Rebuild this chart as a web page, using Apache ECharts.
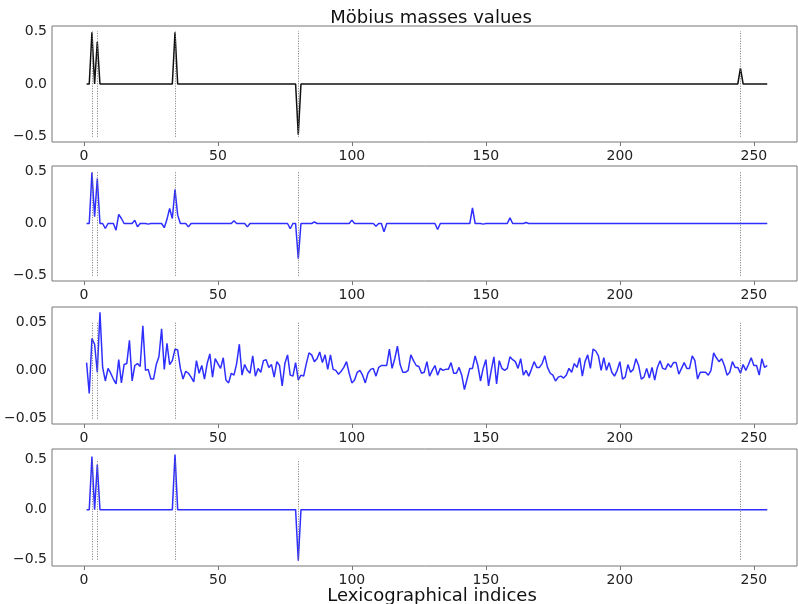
<!DOCTYPE html>
<html>
<head>
<meta charset="utf-8">
<script src="https://cdn.jsdelivr.net/npm/echarts@6/dist/echarts.min.js"></script>
<style>
  html, body { margin: 0; padding: 0; background: #fff; }
  #chart { width: 798px; height: 604px; }
</style>
</head>
<body>
<div id="chart"></div>
<script>
// lexicographical indices run 1..255
const firstIndex = 1;
const lastIndex = 255;
const markedIndices = [3, 5, 34, 80, 245];
const xTicks = [0, 50, 100, 150, 200, 250];

// panel 1: true masses (only non-zero entries, rest is 0)
const trueMasses = [[3, 0.49], [5, 0.40], [34, 0.49], [80, -0.48], [245, 0.15]];

// panel 2: estimate (non-zero entries)
const estimateMasses = [
  [3, 0.487], [4, 0.064], [5, 0.43], [8, -0.048], [12, -0.064], [13, 0.087],
  [14, 0.048], [19, 0.032], [20, -0.032], [24, -0.006], [30, -0.04], [31, 0.04],
  [32, 0.144], [33, 0.048], [34, 0.327], [35, 0.08], [39, -0.032], [56, 0.026],
  [61, -0.032], [77, -0.05], [80, -0.337], [86, 0.016], [100, 0.032], [109, -0.026],
  [112, -0.08], [132, -0.058], [145, 0.15], [149, -0.006], [159, 0.054], [165, 0.01]
];

// panel 3: every index 1..255
const noisyMasses = [
  0.008, -0.024, 0.033, 0.027, -0.002, 0.060, 0.003, -0.011, 0.002, -0.003,
  -0.009, -0.014, 0.011, -0.013, 0.006, 0.007, 0.031, -0.011, 0.005, 0.007,
  0.004, 0.046, 0.000, 0.001, -0.009, -0.009, 0.006, 0.014, 0.043, 0.001,
  0.028, 0.006, 0.010, 0.022, 0.021, 0.002, -0.009, -0.001, -0.003, -0.007,
  -0.012, 0.010, -0.003, 0.005, -0.009, 0.007, 0.017, -0.007, 0.012, 0.007,
  0.002, 0.013, -0.010, -0.013, -0.003, -0.005, 0.007, 0.027, -0.005, 0.006,
  0.000, -0.003, 0.015, -0.006, 0.002, -0.002, 0.010, 0.011, 0.003, 0.006,
  -0.007, 0.009, 0.005, -0.016, 0.007, 0.016, -0.005, -0.006, 0.008, -0.010,
  -0.005, -0.006, 0.007, 0.018, 0.016, 0.009, 0.012, 0.019, 0.008, 0.016,
  0.001, 0.016, 0.001, 0.000, -0.004, -0.001, 0.003, 0.009, -0.003, -0.013,
  -0.010, -0.002, 0.000, -0.005, -0.013, -0.003, 0.001, 0.002, -0.006, 0.003,
  0.005, 0.005, 0.005, 0.022, 0.002, 0.012, 0.025, 0.006, -0.002, -0.002,
  0.000, 0.016, 0.010, 0.005, 0.004, -0.003, -0.002, 0.009, -0.006, 0.000,
  0.005, -0.005, 0.002, 0.000, 0.001, 0.001, 0.008, -0.003, -0.003, 0.003,
  -0.005, -0.020, -0.009, 0.002, 0.002, 0.015, 0.005, -0.011, 0.002, 0.011,
  -0.016, 0.000, 0.014, -0.014, 0.010, 0.002, 0.000, 0.002, 0.014, 0.011,
  0.009, 0.002, 0.012, -0.005, 0.000, -0.006, 0.001, 0.009, 0.003, 0.003,
  0.007, 0.015, 0.003, -0.003, -0.005, -0.011, -0.007, -0.006, -0.008, -0.005,
  0.002, -0.002, 0.007, 0.003, 0.013, -0.006, 0.009, 0.016, 0.002, 0.022,
  0.020, 0.015, 0.000, 0.013, 0.000, 0.008, -0.002, -0.006, 0.000, 0.009,
  -0.009, -0.007, 0.006, -0.002, 0.001, 0.012, 0.005, -0.009, -0.007, 0.002,
  -0.008, 0.003, -0.010, 0.003, 0.010, 0.002, 0.001, 0.007, 0.003, 0.008,
  0.008, -0.004, 0.002, 0.008, 0.002, 0.002, 0.015, 0.010, -0.009, -0.002,
  -0.002, -0.002, -0.005, 0.000, 0.018, 0.013, 0.009, 0.012, 0.005, -0.005,
  -0.002, 0.009, 0.003, 0.003, -0.003, 0.006, 0.000, 0.006, 0.013, 0.005,
  0.005, -0.005, 0.012, 0.003, 0.005
];

// panel 4: recovered masses (non-zero entries)
const recoveredMasses = [[3, 0.53], [5, 0.45], [34, 0.55], [80, -0.51]];

const panelTicks = [[-0.5, 0, 0.5], [-0.5, 0, 0.5], [-0.05, 0, 0.05], [-0.5, 0, 0.5]];

// ---- layout ----
const PANELS = [
  { top: 26, height: 116, min: -0.55, max: 0.55, digits: 1, vline: 0.5, color: "#111" },
  { top: 166, height: 115, min: -0.55, max: 0.55, digits: 1, vline: 0.5, color: "rgba(0,0,255,0.82)" },
  { top: 307, height: 117, min: -0.0555, max: 0.0655, digits: 2, vline: 0.05, color: "rgba(0,0,255,0.82)" },
  { top: 449, height: 117, min: -0.563, max: 0.606, digits: 1, vline: 0.5, color: "rgba(0,0,255,0.82)" },
];
const FONT = "DejaVu Sans";

const fromSparse = (entries) => {
  const lookup = new Map(entries);
  const out = [];
  for (let i = firstIndex; i <= lastIndex; i++) out.push([i, lookup.get(i) || 0]);
  return out;
};
const fromDense = (values) => values.map((v, k) => [firstIndex + k, v]);

const seriesData = [
  fromSparse(trueMasses),
  fromSparse(estimateMasses),
  fromDense(noisyMasses),
  fromSparse(recoveredMasses),
];

const fmt = (digits) => (v) => v.toFixed(digits).replace("-", "\u2212");

const chart = echarts.init(document.getElementById("chart"), null, { renderer: "canvas" });

const option = {
  animation: false,
  title: [
    {
      text: "Möbius masses values",
      left: 426, top: 4, textAlign: "center",
      textStyle: { fontFamily: FONT, fontSize: 18, fontWeight: "normal", color: "#111" },
    },
    {
      text: "Lexicographical indices",
      left: 427, top: 582, textAlign: "center",
      textStyle: { fontFamily: FONT, fontSize: 18, fontWeight: "normal", color: "#111" },
    },
  ],
  grid: PANELS.map((p) => ({
    left: 52, width: 745, top: p.top, height: p.height,
    show: true, borderColor: "#777", borderWidth: 1, backgroundColor: "transparent",
    containLabel: false,
  })),
  xAxis: PANELS.map((p, k) => ({
    type: "value", gridIndex: k, min: -11.9, max: 266.1, position: "bottom",
    splitLine: { show: false },
    axisLine: { show: false, onZero: false },
    axisTick: { show: true, length: 4, lineStyle: { color: "#777" }, customValues: xTicks },
    axisLabel: {
      show: true, customValues: xTicks, margin: 7,
      fontFamily: FONT, fontSize: 14, color: "#222",
    },
  })),
  yAxis: PANELS.map((p, k) => ({
    type: "value", gridIndex: k, min: p.min, max: p.max, position: "left",
    splitLine: { show: false },
    axisLine: { show: false, onZero: false },
    axisTick: { show: false },
    axisLabel: {
      show: true, customValues: panelTicks[k], margin: 5,
      fontFamily: FONT, fontSize: 14, color: "#222",
      formatter: fmt(p.digits),
    },
  })),
  series: PANELS.map((p, k) => ({
    type: "line",
    xAxisIndex: k, yAxisIndex: k,
    data: seriesData[k],
    showSymbol: false,
    lineStyle: { color: p.color, width: 1.5 },
    z: 3,
    markLine: {
      silent: true, symbol: "none", label: { show: false },
      lineStyle: { color: "#777", type: [1, 1.5], width: 1 },
      data: markedIndices.map((x) => [
        { coord: [x, -p.vline] },
        { coord: [x, p.vline] },
      ]),
    },
  })),
};

chart.setOption(option);
</script>
</body>
</html>
